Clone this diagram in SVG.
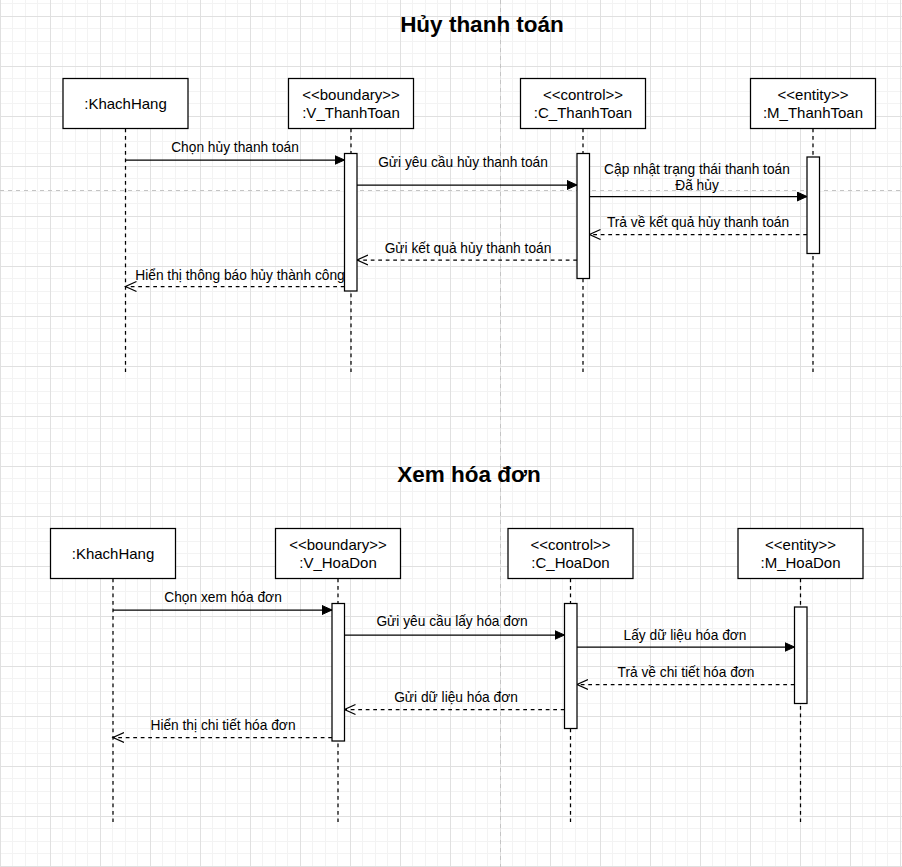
<svg xmlns="http://www.w3.org/2000/svg" width="902" height="867" viewBox="0 0 902 867">
  <style>
    text { font-family: "Liberation Sans", Arial, sans-serif; fill: #000; }
    .title { font-size: 22.5px; font-weight: bold; text-anchor: middle; }
    .obj { font-size: 15px; text-anchor: middle; }
    .msg { font-size: 13.75px; text-anchor: middle; }
    .box { fill: #fff; stroke: #000; stroke-width: 1.25; }
    .bar { fill: #fff; stroke: #000; stroke-width: 1.25; }
    .life { stroke: #000; stroke-width: 1.25; stroke-dasharray: 3.75 3.75; fill: none; }
    .call { stroke: #000; stroke-width: 1.25; fill: none; marker-end: url(#block); }
    .ret { stroke: #000; stroke-width: 1.25; fill: none; stroke-dasharray: 3.75 3.75; marker-end: url(#open); }
    .pagebreak { stroke: #c4c4c4; stroke-width: 1; stroke-dasharray: 4 4; fill: none; }
  </style>
  <defs>
    <pattern id="grid" patternUnits="userSpaceOnUse" x="0" y="16" width="50" height="50">
      <rect width="50" height="50" fill="#fff"/>
      <rect x="12" y="0" width="1" height="50" fill="#f3f3f3"/>
      <rect x="25" y="0" width="1" height="50" fill="#f3f3f3"/>
      <rect x="37" y="0" width="1" height="50" fill="#f3f3f3"/>
      <rect x="0" y="12" width="50" height="1" fill="#f3f3f3"/>
      <rect x="0" y="25" width="50" height="1" fill="#f3f3f3"/>
      <rect x="0" y="37" width="50" height="1" fill="#f3f3f3"/>
      <rect x="0" y="0" width="1" height="50" fill="#e0e0e0"/>
      <rect x="0" y="0" width="50" height="1" fill="#e0e0e0"/>
    </pattern>
    <marker id="block" markerUnits="userSpaceOnUse" markerWidth="12" markerHeight="12" refX="10" refY="5" orient="auto">
      <path d="M0,0.5 L10,5 L0,9.5 Z" fill="#000" stroke="#000" stroke-width="1" stroke-dasharray="none"/>
    </marker>
    <marker id="open" markerUnits="userSpaceOnUse" markerWidth="14" markerHeight="14" refX="11" refY="6" orient="auto">
      <path d="M0,1 L11,6 L0,11" fill="none" stroke="#000" stroke-width="1.25" stroke-dasharray="none"/>
    </marker>
  </defs>

  <!-- canvas grid and page breaks -->
  <rect width="902" height="867" fill="url(#grid)"/>
  <line class="pagebreak" x1="500.5" y1="0" x2="500.5" y2="867"/>
  <line class="pagebreak" x1="0" y1="190.5" x2="902" y2="190.5"/>

  <!-- ===== Hủy thanh toán ===== -->
  <text class="title" x="482" y="31.5">Hủy thanh toán</text>

  <g id="cancel-connectors">
    <line class="life" x1="125.5" y1="128.5" x2="125.5" y2="372"/>
    <line class="life" x1="351" y1="128.5" x2="351" y2="372"/>
    <line class="life" x1="583" y1="128.5" x2="583" y2="372"/>
    <line class="life" x1="813" y1="128.5" x2="813" y2="372"/>

    <line class="call" x1="125.5" y1="160" x2="344.5" y2="160"/>
    <text class="msg" x="235" y="152">Chọn hủy thanh toán</text>

    <line class="call" x1="357" y1="185" x2="577" y2="185"/>
    <text class="msg" x="463" y="166.5">Gửi yêu cầu hủy thanh toán</text>

    <line class="call" x1="589.5" y1="196.5" x2="807" y2="196.5"/>
    <text class="msg" x="697" y="173.5">Cập nhật trạng thái thanh toán</text>
    <text class="msg" x="697" y="190">Đã hủy</text>

    <line class="ret" x1="807" y1="234.5" x2="589.5" y2="234.5"/>
    <text class="msg" x="698" y="226.5">Trả về kết quả hủy thanh toán</text>

    <line class="ret" x1="577" y1="260" x2="357" y2="260"/>
    <text class="msg" x="468" y="252.5">Gửi kết quả hủy thanh toán</text>

    <line class="ret" x1="344.5" y1="286.5" x2="125.5" y2="286.5"/>
    <text class="msg" x="240" y="279.5">Hiển thị thông báo hủy thành công</text>
  </g>

  <g id="cancel-khachhang">
    <rect class="box" x="63" y="78.5" width="125" height="50"/>
    <text class="obj" x="125.5" y="109">:KhachHang</text>
  </g>
  <g id="cancel-v-thanhtoan">
    <rect class="box" x="288.5" y="78.5" width="125" height="50"/>
    <text class="obj" x="351" y="99.5">&lt;&lt;boundary&gt;&gt;</text>
    <text class="obj" x="351" y="117.5">:V_ThanhToan</text>
    <rect class="bar" x="344.5" y="153.5" width="12.5" height="137.5"/>
  </g>
  <g id="cancel-c-thanhtoan">
    <rect class="box" x="520.5" y="78.5" width="125" height="50"/>
    <text class="obj" x="583" y="99.5">&lt;&lt;control&gt;&gt;</text>
    <text class="obj" x="583" y="117.5">:C_ThanhToan</text>
    <rect class="bar" x="577" y="153.5" width="12.5" height="125"/>
  </g>
  <g id="cancel-m-thanhtoan">
    <rect class="box" x="750.5" y="78.5" width="125" height="50"/>
    <text class="obj" x="813" y="99.5">&lt;&lt;entity&gt;&gt;</text>
    <text class="obj" x="813" y="117.5">:M_ThanhToan</text>
    <rect class="bar" x="807" y="157" width="12.5" height="96.5"/>
  </g>

  <!-- ===== Xem hóa đơn ===== -->
  <text class="title" x="469" y="481.5">Xem hóa đơn</text>

  <g id="invoice-connectors">
    <line class="life" x1="113" y1="578.5" x2="113" y2="822"/>
    <line class="life" x1="338" y1="578.5" x2="338" y2="822"/>
    <line class="life" x1="570.5" y1="578.5" x2="570.5" y2="822"/>
    <line class="life" x1="800.5" y1="578.5" x2="800.5" y2="822"/>

    <line class="call" x1="113" y1="610" x2="332" y2="610"/>
    <text class="msg" x="223" y="601.5">Chọn xem hóa đơn</text>

    <line class="call" x1="344.5" y1="635" x2="564.5" y2="635"/>
    <text class="msg" x="452" y="626">Gửi yêu cầu lấy hóa đơn</text>

    <line class="call" x1="577" y1="647" x2="794.5" y2="647"/>
    <text class="msg" x="685" y="639.5">Lấy dữ liệu hóa đơn</text>

    <line class="ret" x1="794.5" y1="684.5" x2="577" y2="684.5"/>
    <text class="msg" x="686" y="676.5">Trả về chi tiết hóa đơn</text>

    <line class="ret" x1="564.5" y1="709.5" x2="344.5" y2="709.5"/>
    <text class="msg" x="456" y="701.5">Gửi dữ liệu hóa đơn</text>

    <line class="ret" x1="332" y1="737.5" x2="113" y2="737.5"/>
    <text class="msg" x="223" y="730">Hiển thị chi tiết hóa đơn</text>
  </g>

  <g id="invoice-khachhang">
    <rect class="box" x="50.5" y="528.5" width="125" height="50"/>
    <text class="obj" x="113" y="559">:KhachHang</text>
  </g>
  <g id="invoice-v-hoadon">
    <rect class="box" x="275.5" y="528.5" width="125" height="50"/>
    <text class="obj" x="338" y="549.5">&lt;&lt;boundary&gt;&gt;</text>
    <text class="obj" x="338" y="567.5">:V_HoaDon</text>
    <rect class="bar" x="332" y="603.5" width="12.5" height="137.5"/>
  </g>
  <g id="invoice-c-hoadon">
    <rect class="box" x="508" y="528.5" width="125" height="50"/>
    <text class="obj" x="570.5" y="549.5">&lt;&lt;control&gt;&gt;</text>
    <text class="obj" x="570.5" y="567.5">:C_HoaDon</text>
    <rect class="bar" x="564.5" y="603.5" width="12.5" height="125"/>
  </g>
  <g id="invoice-m-hoadon">
    <rect class="box" x="738" y="528.5" width="125" height="50"/>
    <text class="obj" x="800.5" y="549.5">&lt;&lt;entity&gt;&gt;</text>
    <text class="obj" x="800.5" y="567.5">:M_HoaDon</text>
    <rect class="bar" x="794.5" y="607" width="12.5" height="96.5"/>
  </g>
</svg>
